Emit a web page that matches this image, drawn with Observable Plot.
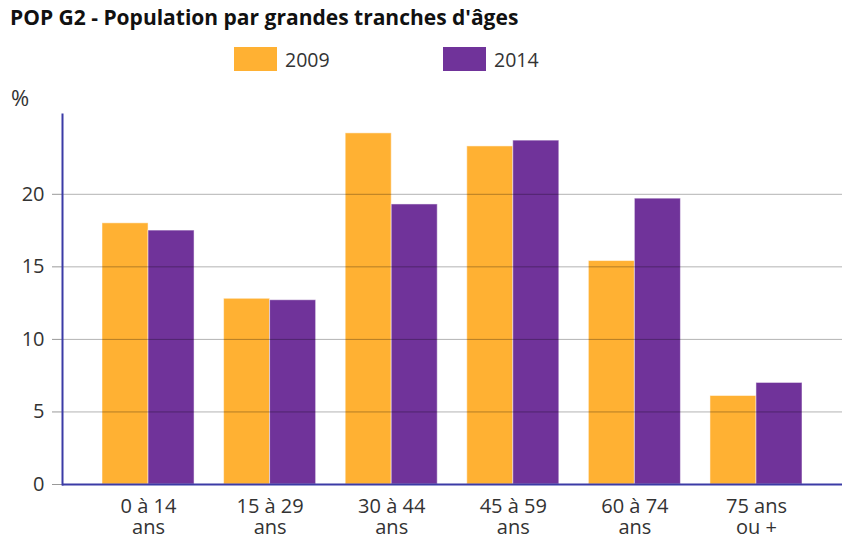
<!DOCTYPE html>
<html><head><meta charset="utf-8">
<script src="https://cdn.jsdelivr.net/npm/d3@7"></script>
<script src="https://cdn.jsdelivr.net/npm/@observablehq/plot@0.6"></script>
<style>
body{margin:0;background:#fff;font-family:"Open Sans",sans-serif;color:#333}
#wrap{position:relative;width:842px;height:537px;overflow:hidden}
#title{position:absolute;left:10px;top:3px;font-weight:700;font-size:21px;color:#111;white-space:nowrap}
.sw{position:absolute;top:47px;width:43px;height:24px}
.lt{position:absolute;top:46px;font-size:19.5px;color:#333}
#pct{position:absolute;left:11px;top:82px;font-size:22px;color:#333;z-index:2}
#chart{position:absolute;left:0;top:80px;z-index:1}
</style></head>
<body>
<div id="wrap">
  <div id="title">POP G2 - Population par grandes tranches d'âges</div>
  <div class="sw" style="left:234px;background:#FFB133"></div>
  <div class="lt" style="left:285px">2009</div>
  <div class="sw" style="left:443px;background:#70339A"></div>
  <div class="lt" style="left:494px">2014</div>
  <div id="chart"></div>
  <div id="pct">%</div>
</div>
<script>
const categories = ["0 à 14 ans", "15 à 29 ans", "30 à 44 ans", "45 à 59 ans", "60 à 74 ans", "75 ans ou +"];
const tickLabels = ["0 à 14\nans", "15 à 29\nans", "30 à 44\nans", "45 à 59\nans", "60 à 74\nans", "75 ans\nou +"];
const values2009 = [18.0, 12.8, 24.2, 23.3, 15.4, 6.1];
const values2014 = [17.5, 12.7, 19.3, 23.7, 19.7, 7.0];
const yTicks = [0, 5, 10, 15, 20];

const rows2009 = categories.map((c, i) => ({cat: c, v: values2009[i]}));
const rows2014 = categories.map((c, i) => ({cat: c, v: values2014[i]}));

const axisBlue = "#3b3ba6";
const plot = Plot.plot({
  width: 842, height: 457,
  marginLeft: 62, marginRight: 0, marginTop: 34, marginBottom: 53,
  style: {fontFamily: "Open Sans, sans-serif", fontSize: "20px", color: "#333", background: "transparent"},
  x: {domain: categories, paddingInner: 0.243, paddingOuter: 0.329, round: false, axis: null},
  y: {domain: [0, 25.5], axis: null},
  marks: [
    Plot.barY(rows2009, {x: "cat", y: "v", fill: "#FFB133", insetRight: 46, stroke: "#fff", strokeOpacity: 0.5}),
    Plot.barY(rows2014, {x: "cat", y: "v", fill: "#70339A", insetLeft: 46, stroke: "#fff", strokeOpacity: 0.5}),
    Plot.ruleY(yTicks.slice(1), {stroke: "#000", strokeOpacity: 0.3}),
    Plot.axisY({ticks: yTicks, tickSize: 10, tickPadding: 8, stroke: "#999", label: null, fontSize: 20}),
    Plot.axisX({tickFormat: d => tickLabels[categories.indexOf(d)], tickSize: 0, tickPadding: 13, label: null, lineHeight: 1.08, fontSize: 20}),
    Plot.ruleY([0], {stroke: axisBlue, strokeWidth: 2}),
    Plot.frame({anchor: "left", stroke: axisBlue, strokeWidth: 2})
  ]
});
document.getElementById("chart").appendChild(plot);
</script>
</body></html>
